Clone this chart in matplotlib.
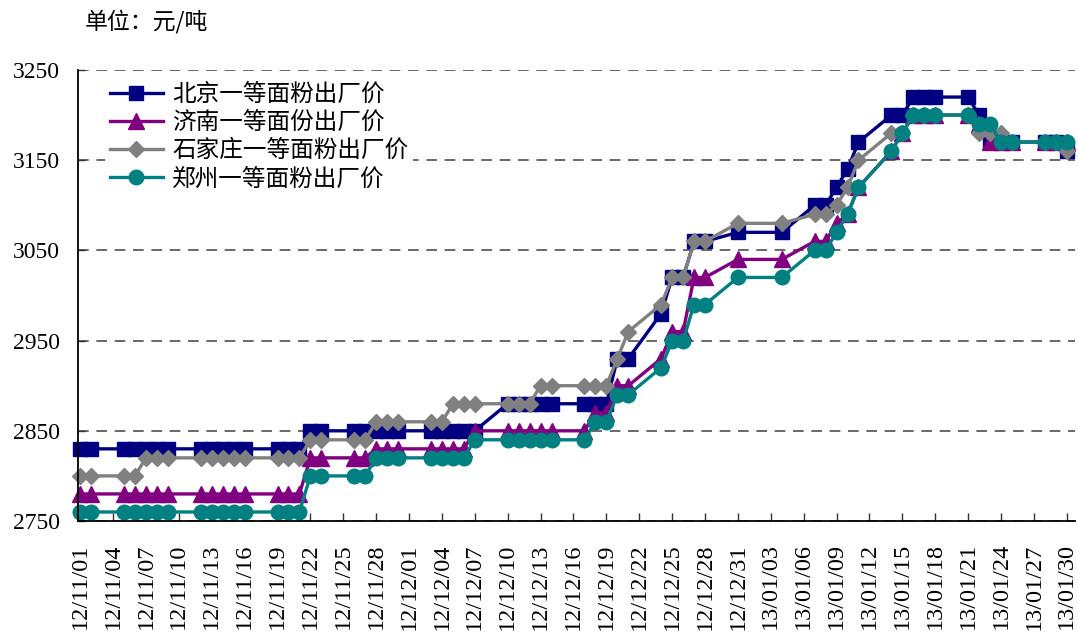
import matplotlib
matplotlib.use("Agg")
import matplotlib.pyplot as plt
import matplotlib.dates as mdates
import numpy as np
import datetime as dt

# ---- data ----
dates = [
    "2012-11-01", "2012-11-02", "2012-11-05", "2012-11-06", "2012-11-07", "2012-11-08", "2012-11-09",
    "2012-11-12", "2012-11-13", "2012-11-14", "2012-11-15", "2012-11-16", "2012-11-19", "2012-11-20",
    "2012-11-21", "2012-11-22", "2012-11-23", "2012-11-26", "2012-11-27", "2012-11-28", "2012-11-29",
    "2012-11-30",
    "2012-12-03", "2012-12-04", "2012-12-05", "2012-12-06", "2012-12-07", "2012-12-10", "2012-12-11",
    "2012-12-12", "2012-12-13", "2012-12-14", "2012-12-17", "2012-12-18", "2012-12-19", "2012-12-20",
    "2012-12-21", "2012-12-24", "2012-12-25", "2012-12-26", "2012-12-27", "2012-12-28", "2012-12-31",
    "2013-01-04", "2013-01-07", "2013-01-08", "2013-01-09", "2013-01-10", "2013-01-11", "2013-01-14",
    "2013-01-15", "2013-01-16", "2013-01-17", "2013-01-18", "2013-01-21", "2013-01-22", "2013-01-23",
    "2013-01-24", "2013-01-25", "2013-01-28", "2013-01-29", "2013-01-30",
]

beijing = [2830] * 15 + [2850] * 12 + [2880] * 8 + [2930, 2930, 2980, 3020, 3020, 3060, 3060, 3070,
           3070, 3100, 3100, 3120, 3140, 3170, 3200, 3200, 3220, 3220, 3220, 3220, 3200,
           3170, 3170, 3170, 3170, 3170, 3160]

jinan = [2780] * 15 + [2820] * 4 + [2830] * 7 + [2850] * 7 + [2870, 2870, 2900, 2900, 2930, 2960, 2960,
         3020, 3020, 3040, 3040, 3060, 3060, 3080, 3090, 3120, 3160, 3180, 3200, 3200, 3200,
         3200, 3190, 3170, 3170, 3170, 3170, 3170, 3170]

shijiazhuang = [2800] * 4 + [2820] * 11 + [2840] * 4 + [2860] * 5 + [2880] * 6 + [2900] * 5 + [
    2930, 2960, 2990, 3020, 3020, 3060, 3060, 3080, 3080, 3090, 3090, 3100, 3120, 3150,
    3180, 3180, 3200, 3200, 3200, 3200, 3180, 3180, 3180, 3170, 3170, 3170, 3160]

zhengzhou = [2760] * 15 + [2800] * 4 + [2820] * 7 + [2840] * 7 + [2860, 2860, 2890, 2890, 2920, 2950,
             2950, 2990, 2990, 3020, 3020, 3050, 3050, 3070, 3090, 3120, 3160, 3180, 3200, 3200,
             3200, 3200, 3190, 3190, 3170, 3170, 3170, 3170, 3170]

series_names = ["北京一等面粉出厂价", "济南一等面份出厂价", "石家庄一等面粉出厂价", "郑州一等面粉出厂价"]
y_ticks = [2750, 2850, 2950, 3050, 3150, 3250]
unit_label = "单位：元/吨"

# ---- plot ----
plt.rcParams['font.family'] = ['Noto Sans CJK SC', 'DejaVu Sans']

W, H = 1078, 639
fig = plt.figure(figsize=(W / 100, H / 100), dpi=100)
ax = fig.add_axes([78 / W, 1 - 521 / H, (1075 - 78) / W, (521 - 70) / H])

x = [dt.datetime.strptime(d, "%Y-%m-%d") for d in dates]

styles = [
    dict(color="#000080", marker="s", ms=10),
    dict(color="#800080", marker="^", ms=11),
    dict(color="#808080", marker="D", ms=8.5),
    dict(color="#008080", marker="o", ms=10.5),
]
for vals, name, st in zip([beijing, jinan, shijiazhuang, zhengzhou], series_names, styles):
    ax.plot(x, vals, color=st["color"], lw=2.4, marker=st["marker"], ms=st["ms"],
            mfc=st["color"], mec=st["color"], label=name, clip_on=False)

start = dt.datetime(2012, 11, 1)
end = dt.datetime(2013, 1, 30)
ax.set_xlim(start - dt.timedelta(days=0.2), end + dt.timedelta(days=0.75))
ax.set_ylim(2750, 3250)

ticks = [start + dt.timedelta(days=3 * i) for i in range(31)]
ax.set_xticks(ticks)
ax.xaxis.set_major_formatter(mdates.DateFormatter("%y/%m/%d"))
ax.set_yticks(y_ticks)

for lab in ax.get_xticklabels():
    lab.set_rotation(90)
    lab.set_fontfamily("Liberation Serif")
    lab.set_fontsize(17.5)
for lab in ax.get_yticklabels():
    lab.set_fontfamily("Liberation Serif")
    lab.set_fontsize(17)

ax.tick_params(axis="x", direction="in", length=6, width=1, color="#333333", pad=16)
ax.tick_params(axis="y", direction="in", length=5, width=1, color="#333333", pad=13)

ax.yaxis.grid(True, linestyle=(0, (7, 5)), color="#404040", lw=1.1)
ax.set_axisbelow(True)
for s in ["top", "right"]:
    ax.spines[s].set_visible(False)
for s in ["left", "bottom"]:
    ax.spines[s].set_color("black")
    ax.spines[s].set_linewidth(1.3)

leg = ax.legend(loc="upper left", bbox_to_anchor=(0.027, 0.982), fontsize=17,
                frameon=True, facecolor="white", edgecolor="none", framealpha=1,
                handlelength=2.25, handletextpad=0.4, labelspacing=0.22, borderpad=0.2,
                borderaxespad=0)

fig.text(85 / W, 1 - 22 / H, unit_label, fontsize=16.5, va="center", ha="left")

fig.savefig("out.png", dpi=100)
